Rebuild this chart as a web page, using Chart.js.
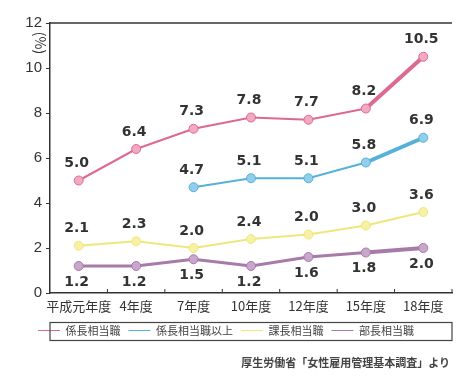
<!DOCTYPE html>
<html>
<head>
<meta charset="utf-8">
<script src="https://cdn.jsdelivr.net/npm/chart.js@4/dist/chart.umd.min.js"></script>
<style>
	body { margin:0; background:#fff; }
	#wrap { position:relative; width:458px; height:378px; }
	#source { position:absolute; right:8px; top:354px; font:bold 11px "Noto Sans CJK JP"; color:#444; }
</style>
</head>
<body>
<div id="wrap">
	<canvas id="mycanvas" width="458" height="378"></canvas>
	<div id="source">厚生労働省「女性雇用管理基本調査」より</div>
</div>
<script>
// years on the x axis
var years = ['平成元年度', '4年度', '7年度', '10年度', '12年度', '15年度', '18年度'];
// series names
var names = ['係長相当職', '係長相当職以上', '課長相当職', '部長相当職'];
// values (%)
var kakari = [5.0, 6.4, 7.3, 7.8, 7.7, 8.2, 10.5];
var kakariIjo = [null, null, 4.7, 5.1, 5.1, 5.8, 6.9];
var kacho = [2.1, 2.3, 2.0, 2.4, 2.6, 3.0, 3.6];
var bucho = [1.2, 1.2, 1.5, 1.2, 1.6, 1.8, 2.0];
// printed labels (as in the original figure)
var kakariText = ['5.0', '6.4', '7.3', '7.8', '7.7', '8.2', '10.5'];
var kakariIjoText = ['', '', '4.7', '5.1', '5.1', '5.8', '6.9'];
var kachoText = ['2.1', '2.3', '2.0', '2.4', '2.0', '3.0', '3.6'];
var buchoText = ['1.2', '1.2', '1.5', '1.2', '1.6', '1.8', '2.0'];
var yTicks = [0, 2, 4, 6, 8, 10, 12];

var jp = '"Noto Sans CJK JP", sans-serif';

//thicker last segment
function lastThick(base, thick) {
	return function(ctx) { return ctx.p1DataIndex === years.length - 1 ? thick : base; };
}

function makeSet(label, data, text, color, fill, base, thick, pos) {
	return {
		label: label,
		data: data,
		valueText: text,
		labelPos: pos,
		borderColor: color,
		backgroundColor: color,
		borderWidth: base,
		pointBackgroundColor: fill,
		pointBorderColor: color,
		pointBorderWidth: 1,
		pointRadius: 4.5,
		tension: 0,
		segment: { borderWidth: lastThick(base, thick) }
	};
}

//draw value labels, axis frame, (%) and legend box
var decor = {
	id: 'decor',
	afterDatasetsDraw: function(chart) {
		var c = chart.ctx;
		c.save();
		c.font = 'bold 14px "DejaVu Sans"';
		c.fillStyle = '#333';
		c.textAlign = 'center';
		c.textBaseline = 'middle';
		chart.data.datasets.forEach(function(ds, i) {
			var meta = chart.getDatasetMeta(i);
			meta.data.forEach(function(pt, j) {
				if (ds.data[j] === null) return;
				var dy = ds.labelPos === 'below' ? 16 : -17;
				c.fillText(ds.valueText[j], pt.x - 2, pt.y + dy);
			});
		});
		c.restore();
	},
	afterDraw: function(chart) {
		var c = chart.ctx;
		var a = chart.chartArea;
		c.save();
		c.strokeStyle = '#333';
		c.lineWidth = 1.5;
		c.beginPath();
		c.moveTo(a.left, a.top);
		c.lineTo(a.right, a.top);
		c.stroke();
		//inside ticks on x axis at category boundaries
		c.lineWidth = 1;
		var step = (a.right - a.left) / years.length;
		for (var i = 1; i <= years.length; i++) {
			var x = a.left + i * step;
			c.beginPath();
			c.moveTo(x, a.bottom);
			c.lineTo(x, a.bottom - 4);
			c.stroke();
		}
		// (%) label
		c.translate(a.left - 10, a.top + 20);
		c.rotate(Math.PI / 2);
		c.font = '14px ' + jp;
		c.fillStyle = '#333';
		c.textAlign = 'center';
		c.textBaseline = 'middle';
		c.fillText('(%)', 0, 0);
		c.restore();
		//legend box
		var lg = chart.legend;
		if (lg && lg.legendHitBoxes.length) {
			var hb = lg.legendHitBoxes[0];
			var cy = hb.top + hb.height / 2 + 1;
			c.save();
			c.strokeStyle = '#444';
			c.lineWidth = 1.2;
			c.strokeRect(a.left, cy - 9, a.right - a.left, 18);
			c.restore();
		}
	}
};

var ctx = document.getElementById('mycanvas');
var lineGraph = new Chart(ctx, {
	type: 'line',
	data: {
		labels: years,
		datasets: [
			makeSet(names[0], kakari, kakariText, '#dc6a8e', '#f1aac0', 2, 4, 'above'),
			makeSet(names[1], kakariIjo, kakariIjoText, '#55b0da', '#92cde9', 2, 4, 'above'),
			makeSet(names[2], kacho, kachoText, '#eee77a', '#f6f1a6', 2, 2, 'above'),
			makeSet(names[3], bucho, buchoText, '#a67aa9', '#c9a6cb', 3, 4, 'below')
		]
	},
	options: {
		responsive: false,
		animation: false,
		layout: { padding: { left: 0, right: 6, top: 23, bottom: 32 } },
		plugins: {
			legend: {
				position: 'bottom',
				labels: {
					usePointStyle: true,
					pointStyle: 'line',
					pointStyleWidth: 22,
					boxHeight: 11,
					padding: 8,
					color: '#444',
					font: { family: jp, size: 11 }
				}
			},
			tooltip: { enabled: false }
		},
		scales: {
			x: {
				offset: true,
				grid: { display: false, drawTicks: false },
				border: { color: '#333', width: 1.5 },
				ticks: { color: '#333', padding: 5, font: { family: jp, size: 13 }, maxRotation: 0, autoSkip: false },
				afterFit: function(s) { s.height = 24; }
			},
			y: {
				min: 0,
				max: 12,
				afterBuildTicks: function(s) { s.ticks = yTicks.map(function(v) { return { value: v }; }); },
				grid: { drawOnChartArea: false, tickLength: 4, color: '#333' },
				border: { color: '#333', width: 1.5 },
				ticks: { color: '#333', padding: 4, font: { family: '"Liberation Sans"', size: 15 } },
				afterFit: function(s) { s.width = 50; }
			}
		}
	},
	plugins: [decor]
});
</script>
</body>
</html>
